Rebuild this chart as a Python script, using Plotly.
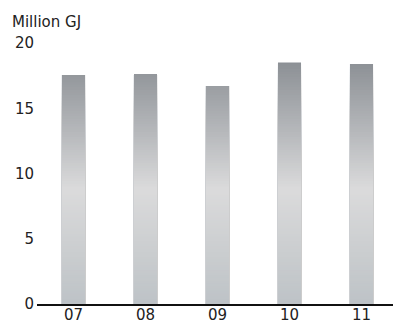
import numpy as np
import plotly.graph_objects as go

categories = ["07", "08", "09", "10", "11"]
values = [17.55, 17.6, 16.7, 18.5, 18.4]
y_ticks = [0, 5, 10, 15, 20]
unit_label = "Million GJ"

# gradient stops (value on y axis -> rgb)
stop_vals = [0.0, 4.0, 8.8, 13.0, 18.6]
stop_cols = [(190, 195, 199), (203, 206, 208), (219, 219, 220), (184, 186, 189), (140, 144, 149)]

def col_at(v):
    r = np.interp(v, stop_vals, [c[0] for c in stop_cols])
    g = np.interp(v, stop_vals, [c[1] for c in stop_cols])
    b = np.interp(v, stop_vals, [c[2] for c in stop_cols])
    return f"rgb({int(r)},{int(g)},{int(b)})"

vals = np.array(values)
h = 0.2
n = int(np.ceil(vals.max() / h))
fig = go.Figure()
for k in range(n - 1, -1, -1):
    top = (k + 1) * h
    fig.add_trace(go.Bar(
        x=categories,
        y=np.minimum(vals, top),
        base=0,
        width=0.32,
        marker=dict(color=col_at(k * h + h / 2), line=dict(width=0)),
        showlegend=False,
        hoverinfo="skip",
    ))

font = dict(family="DejaVu Sans", size=15, color="#222222")
fig.update_layout(
    width=393, height=321,
    margin=dict(l=37, r=0, t=43, b=17),
    plot_bgcolor="white", paper_bgcolor="white",
    barmode="overlay",
    font=font,
    title=dict(text=unit_label, x=12 / 393, xanchor="left", xref="container",
               y=1 - 22 / 321, yanchor="middle", yref="container", font=font),
    xaxis=dict(type="category", range=[-0.507, 4.4375], showline=True, linecolor="#111111",
               linewidth=1.5, ticks="", showgrid=False, zeroline=False, tickfont=font,
               automargin=False, ticklabelstandoff=-4),
    yaxis=dict(range=[0, 20], tickvals=y_ticks, showgrid=False, zeroline=False,
               showline=False, ticks="", tickfont=font, automargin=False,
               ticklabelstandoff=2),
)
fig.write_html("out.html")
